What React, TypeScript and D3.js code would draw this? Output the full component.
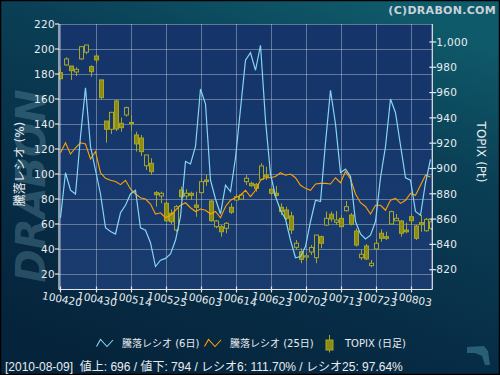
import React from "react";
import * as d3 from "d3";

const dates = [
  "100420","100421","100422","100423","100426","100427","100428","100430",
  "100506","100507","100510","100511","100512","100513","100514","100517","100518","100519","100520","100521","100524","100525","100526","100527","100528","100531",
  "100601","100602","100603","100604","100607","100608","100609","100610","100611","100614","100615","100616","100617","100618","100621","100622","100623","100624","100625","100628","100629","100630",
  "100701","100702","100705","100706","100707","100708","100709","100712","100713","100714","100715","100716","100720","100721","100722","100723","100726","100727","100728","100729","100730",
  "100802","100803","100804","100805","100806","100809",
];

const ratio6 = [
  65, 101, 87, 84, 130, 169, 122, 103, 84, 57, 54, 52, 69, 75, 84, 87, 57, 55, 45, 26,
  31, 32.5, 36, 47, 66, 110, 108, 122, 168, 156, 95, 80, 68, 91, 86, 113, 152, 191, 197, 183,
  203, 143, 100, 82, 71, 64, 47, 33, 34, 42, 62, 79, 78, 125, 167, 140, 101, 104, 98, 62,
  52, 48, 51, 62, 97, 122, 160, 149, 123, 97, 95, 70, 67, 93, 111.7,
];

const ratio25 = [
  117, 125, 116, 121, 125, 124, 112, 118, 101, 96.5, 95, 94, 91.5, 95, 88, 84, 81, 80, 76, 68,
  69, 65, 67, 71, 75, 77, 73, 70, 72, 71, 68, 70, 65, 74, 79, 81, 83, 87, 82, 87,
  95, 97, 97, 98, 101, 99, 100, 97, 91, 88.5, 87, 92, 92.5, 92.5, 92, 97, 93, 102, 96, 84,
  77, 74, 68, 75, 75, 71, 79, 80.5, 76.5, 79, 84.5, 83, 91, 99, 97.64,
];

const topixOpen = [
  975.7, 981.8, 981.0, 976.3, 986.6, 991.9, 980.5, 988.9, 970.0, 937.5, 931.0, 953.4, 935.7, 942.3, 936.4, 926.5, 924.1, 902.2, 904.1, 880.9,
  878.3, 872.5, 864.6, 851.4, 883.0, 878.3, 880.4, 871.1, 880.9, 890.9, 874.3, 854.0, 854.0, 852.7, 869.3, 875.1, 875.7, 889.6, 888.3, 887.5,
  891.5, 894.9, 883.6, 880.4, 869.3, 867.2, 862.5, 837.7, 834.2, 830.0, 834.0, 829.5, 846.1, 855.3, 863.8, 857.5, 860.6, 866.6, 863.2, 850.6,
  829.5, 838.7, 823.2, 836.4, 848.8, 846.1, 856.1, 858.7, 858.5, 851.4, 861.9, 854.5, 857.2, 850.8, 852.7,
];
const topixHigh = [
  980.5, 987.9, 981.0, 980.0, 996.8, 997.6, 981.6, 990.5, 970.0, 937.5, 944.4, 954.2, 940.2, 948.9, 942.3, 929.1, 926.5, 910.7, 908.1, 882.2,
  881.7, 873.8, 867.7, 871.1, 885.6, 883.6, 881.7, 881.7, 892.3, 894.9, 875.1, 859.3, 855.3, 857.7, 872.5, 879.8, 880.6, 894.9, 889.6, 888.5,
  904.1, 901.4, 884.3, 886.2, 872.5, 869.8, 865.9, 843.5, 836.9, 833.2, 839.5, 847.4, 847.0, 865.9, 865.9, 866.4, 863.2, 874.3, 864.8, 852.7,
  835.6, 840.3, 827.7, 844.0, 851.9, 850.0, 866.7, 864.0, 859.3, 857.2, 864.0, 855.3, 863.2, 860.9, 860.6,
];
const topixLow = [
  970.0, 981.0, 970.0, 973.1, 985.8, 990.3, 972.6, 983.2, 954.7, 920.4, 927.3, 929.6, 929.1, 941.0, 929.9, 913.3, 909.9, 898.8, 894.9, 869.8,
  872.5, 857.7, 856.1, 850.0, 875.1, 875.7, 875.1, 861.9, 880.2, 886.2, 857.9, 852.7, 846.1, 848.8, 864.0, 874.3, 875.1, 887.0, 885.6, 881.7,
  890.9, 890.9, 879.1, 877.7, 863.2, 859.3, 848.2, 835.6, 825.1, 826.6, 831.6, 825.1, 836.9, 854.5, 858.0, 855.3, 854.0, 865.9, 854.9, 838.2,
  827.7, 827.7, 821.9, 835.6, 842.1, 843.5, 855.7, 858.5, 846.1, 848.8, 855.3, 843.5, 850.0, 850.0, 851.4,
];
const topixClose = [
  971.0, 986.6, 977.3, 978.4, 996.3, 997.6, 976.5, 985.8, 956.0, 931.0, 944.4, 931.2, 932.3, 948.1, 936.0, 919.4, 913.3, 910.7, 897.5, 879.3,
  880.4, 858.7, 857.9, 869.8, 877.7, 880.4, 878.8, 869.3, 889.6, 889.6, 858.7, 858.5, 850.0, 856.7, 865.4, 877.7, 879.1, 892.3, 886.4, 884.3,
  902.0, 893.5, 880.4, 878.8, 865.9, 860.6, 851.4, 840.9, 828.2, 831.0, 837.6, 847.4, 840.9, 860.6, 860.1, 859.3, 854.0, 869.8, 855.9, 839.5,
  832.2, 828.5, 825.1, 840.9, 844.8, 844.8, 865.9, 860.6, 848.8, 850.0, 858.7, 844.8, 855.6, 859.8, 857.9,
];

const leftTicks = [20, 40, 60, 80, 100, 120, 140, 160, 180, 200, 220];
const rightTicks = [820, 840, 860, 880, 900, 920, 940, 960, 980, 1000];
const labelEvery = 7;

const advancers = 696;
const decliners = 794;

const legendLabels = ["騰落レシオ (6日)", "騰落レシオ (25日)", "TOPIX (日足)"];
const leftTitle = "騰落レシオ (%)";
const rightTitle = "TOPIX (Pt)";
const copyright = "(C)DRABON.COM";

const FONT = "'DejaVu Sans', 'Noto Sans CJK JP', sans-serif";
const FONT2 = "'Liberation Sans', 'Noto Sans CJK JP', sans-serif";
const BLUE = "#86d6f2";
const ORANGE = "#ffa200";
const OLIVE_FILL = "#8c8c12";
const OLIVE_STROKE = "#a6a62a";
const TEXT = "#e8ecef";

export default function App() {
  const L = 59, R = 432.3, T = 24, B = 289.5;
  const n = dates.length;
  const x = d3.scaleLinear().domain([-0.3, n - 1 + 0.36]).range([L, R]);
  const yL = d3.scaleLinear().domain([7.6, 220]).range([B, T]);
  const yR = d3.scaleLinear().domain([804.35, 1014.2]).range([B, T]);
  const fmt = d3.format(",");

  const line6 = d3.line<number>().x((_, i) => x(i)).y((d) => yL(d));
  const idx = d3.range(n);
  const xTickIdx = idx.filter((i) => i % labelEvery === 0);

  const last = n - 1;
  const d = dates[last];
  const status = `[20${d.slice(0, 2)}-${d.slice(2, 4)}-${d.slice(4, 6)}]  値上: ${advancers} / 値下: ${decliners} / レシオ6: ${ratio6[last].toFixed(2)}% / レシオ25: ${ratio25[last].toFixed(2)}%`;

  const bw = 4;

  return (
    <svg width={500} height={375} style={{ position: "fixed", left: 0, top: 0 }} fontFamily={FONT}>
      <defs>
        <linearGradient id="bg" x1="0.75" y1="0" x2="0.25" y2="1">
          <stop offset="0" stopColor="#0f5a6a" />
          <stop offset="0.3" stopColor="#0a3f56" />
          <stop offset="0.7" stopColor="#072c45" />
          <stop offset="1" stopColor="#05243b" />
        </linearGradient>
        <linearGradient id="plotbg" x1="0" y1="0" x2="0" y2="1">
          <stop offset="0" stopColor="#14346a" />
          <stop offset="1" stopColor="#193b6e" />
        </linearGradient>
        <clipPath id="plotclip">
          <rect x={L} y={T} width={R - L} height={B - T} />
        </clipPath>
      </defs>
      <rect x={0} y={0} width={500} height={375} fill="url(#bg)" />
      <rect x={0.5} y={0.5} width={499} height={374} fill="none" stroke="#000" strokeWidth={1.5} />

      {/* watermark */}
      <text
        transform={`translate(45,186) rotate(-90)`}
        textAnchor="middle"
        fontSize={40}
        fontWeight="bold"
        fontStyle="italic"
        fill="#7fb0c0"
        fillOpacity={0.3}
        fontFamily="'DejaVu Sans', sans-serif"
      >
        DRABON
      </text>

      <text x={496} y={13.5} textAnchor="end" fontSize={11} fontWeight="bold" fill="#c9d2d8" letterSpacing={0.3}>
        {copyright}
      </text>

      {/* plot area */}
      <rect x={L} y={T} width={R - L} height={B - T} fill="url(#plotbg)" />
      <g stroke="#ffffff" strokeOpacity={0.33} strokeWidth={1}>
        {leftTicks.map((t) => (
          <line key={"h" + t} x1={L} x2={R} y1={Math.round(yL(t)) + 0.5} y2={Math.round(yL(t)) + 0.5} />
        ))}
        {xTickIdx.map((i) => (
          <line key={"v" + i} x1={Math.round(x(i)) + 0.5} x2={Math.round(x(i)) + 0.5} y1={T} y2={B} />
        ))}
      </g>

      <g clipPath="url(#plotclip)">
        {idx.map((i) => {
          const o = topixOpen[i], c = topixClose[i], h = topixHigh[i], l = topixLow[i];
          const up = c > o;
          const yTop = yR(Math.max(o, c));
          const yBot = yR(Math.min(o, c));
          const cx = Math.round(x(i)) + 0.5;
          return (
            <g key={"c" + i}>
              <line x1={cx} x2={cx} y1={yR(h)} y2={yR(l)} stroke={OLIVE_STROKE} strokeWidth={1} />
              <rect
                x={cx - bw / 2}
                y={yTop}
                width={bw}
                height={Math.max(1, yBot - yTop)}
                fill={up ? "#16386b" : OLIVE_FILL}
                stroke={OLIVE_STROKE}
                strokeWidth={1}
              />
            </g>
          );
        })}
        <path d={line6(ratio25) || ""} fill="none" stroke={ORANGE} strokeWidth={1.1} />
        <path d={line6(ratio6) || ""} fill="none" stroke={BLUE} strokeWidth={1.2} />
      </g>

      {/* axes */}
      <g stroke="#e6e6e6" strokeWidth={1.2}>
        <line x1={L} x2={L} y1={T} y2={B} />
        <line x1={L} x2={R} y1={B} y2={B} />
        <line x1={R} x2={R} y1={T} y2={B} />
        {leftTicks.map((t) => (
          <line key={"lt" + t} x1={L - 4} x2={L} y1={yL(t)} y2={yL(t)} />
        ))}
        {rightTicks.map((t) => (
          <line key={"rt" + t} x1={R - 3} x2={R + 4} y1={yR(t)} y2={yR(t)} />
        ))}
        {xTickIdx.map((i) => (
          <line key={"bt" + i} x1={Math.round(x(i)) + 0.5} x2={Math.round(x(i)) + 0.5} y1={B - 3} y2={B + 3} />
        ))}
      </g>
      <g fontSize={10.5} fill={TEXT}>
        {leftTicks.map((t) => (
          <text key={"ll" + t} x={L - 4} y={yL(t)} dy="0.36em" textAnchor="end" letterSpacing={0.3}>
            {t}
          </text>
        ))}
        {rightTicks.map((t) => (
          <text key={"rl" + t} x={R + 4} y={yR(t)} dy="0.36em" textAnchor="start" letterSpacing={0.3}>
            {fmt(t)}
          </text>
        ))}
        {xTickIdx.map((i) => (
          <text
            key={"xl" + i}
            transform={`translate(${x(i) + 1.5},${299}) rotate(11)`}
            textAnchor="middle"
            dy="0.36em"
            fontSize={10.5}
          >
            {dates[i]}
          </text>
        ))}
      </g>

      <text transform={`translate(24,164) rotate(-90)`} textAnchor="middle" fontSize={12} fill={TEXT}>
        {leftTitle}
      </text>
      <text transform={`translate(477,152) rotate(90)`} textAnchor="middle" fontSize={12} fill={TEXT}>
        {rightTitle}
      </text>

      {/* legend */}
      <g fontSize={10} fill={TEXT}>
        <path d="M96.5,346.5 L100.5,339.5 L107,346.5 L113,340" fill="none" stroke={BLUE} strokeWidth={1.1} />
        <text x={122} y={347}>{legendLabels[0]}</text>
        <path d="M204.5,346.5 L208.5,339.5 L215,346.5 L221,340" fill="none" stroke={ORANGE} strokeWidth={1.1} />
        <text x={230} y={347}>{legendLabels[1]}</text>
        <line x1={329.5} x2={329.5} y1={335} y2={352.5} stroke={OLIVE_STROKE} />
        <rect x={326} y={340} width={7} height={10} fill={OLIVE_FILL} stroke={OLIVE_STROKE} />
        <text x={345} y={347}>{legendLabels[2]}</text>
      </g>

      <text x={5} y={371} fontSize={12} fill={TEXT} fontFamily={FONT2} xmlSpace="preserve">
        {status}
      </text>

      <path d="M467,347 L484,346 L488,351 L490,365 L485,365 L482,356 L475,353 L467,353 Z" fill="#2e6b82" fillOpacity={0.8} />
    </svg>
  );
}
